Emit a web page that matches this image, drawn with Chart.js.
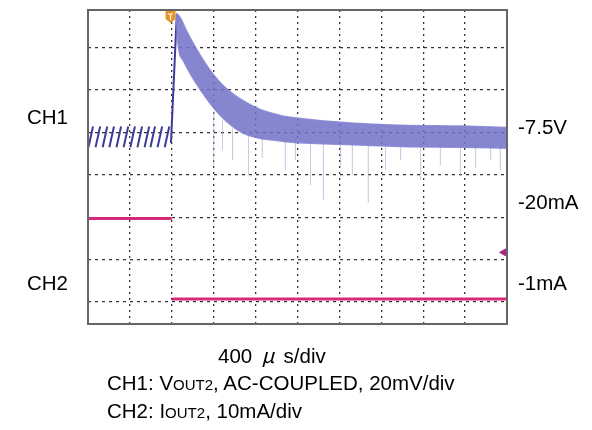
<!DOCTYPE html>
<html>
<head>
<meta charset="utf-8">
<script src="https://cdn.jsdelivr.net/npm/chart.js@4.4.1/dist/chart.umd.min.js"></script>
<style>
  body { margin: 0; background: #fff; }
  #wrap { position: relative; width: 592px; height: 430px; font-family: Arial, "Liberation Sans", sans-serif; color: #000; }
  #wrap canvas { position: absolute; left: 0; top: 0; }
  .lbl { position: absolute; font-size: 20.5px; line-height: 20px; white-space: nowrap; }
  .sc { font-size: 15px; }
  .mu { display: inline-block; width: 20px; text-align: center; font-style: italic; font-family: "Noto Sans CJK JP", sans-serif; }
</style>
</head>
<body>
<div id="wrap">
  <canvas id="scope" width="592" height="430"></canvas>
  <div class="lbl" style="left:27px; top:107px;">CH1</div>
  <div class="lbl" style="left:27px; top:273px;">CH2</div>
  <div class="lbl" style="left:518px; top:117px;">-7.5V</div>
  <div class="lbl" style="left:518px; top:192px;">-20mA</div>
  <div class="lbl" style="left:518px; top:273px;">-1mA</div>
  <div class="lbl" style="left:218px; top:344px;">400 <span class="mu">μ</span> s/div</div>
  <div class="lbl" style="left:107px; top:373px;">CH1: V<span class="sc">OUT2</span>, AC-COUPLED, 20mV/div</div>
  <div class="lbl" style="left:107px; top:401px;">CH2: I<span class="sc">OUT2</span>, 10mA/div</div>
</div>
<script>
// scope screen, all values in divisions
const xTicks = [0, 1, 2, 3, 4, 5, 6, 7, 8, 9, 10];
const yTicks = [0, 1, 2, 3, 4, 5, 6];
const xRange = [0, 10];
const yRange = [-0.52, 6.89];
const triggerX = 1.97;

// CH1 noise band after the load step (upper / lower edge)
const ch1TopX = [2.11, 2.21, 2.33, 2.57, 2.92, 3.33, 4.00, 4.59, 5.07, 6.03, 7.46, 8.89, 10];
const ch1TopY = [6.81, 6.70, 6.44, 6.00, 5.46, 5.01, 4.59, 4.40, 4.33, 4.24, 4.17, 4.15, 4.12];
const ch1BotX = [2.11, 2.14, 2.28, 2.68, 3.16, 3.71, 4.59, 6.03, 7.46, 8.89, 10];
const ch1BotY = [6.77, 6.16, 5.69, 5.01, 4.40, 3.98, 3.80, 3.72, 3.67, 3.65, 3.63];

// CH1 ripple before the step (each slash: start x, end x)
const sawStartX = [0.01, 0.18, 0.35, 0.51, 0.68, 0.85, 1.01, 1.18, 1.35, 1.49, 1.66, 1.83];
const sawEndX   = [0.12, 0.29, 0.46, 0.62, 0.79, 0.96, 1.12, 1.29, 1.46, 1.60, 1.77, 1.94];
const sawLow = 3.65;
const sawHigh = 4.14;
const edgeX = [1.98, 2.12];
const edgeY = [3.75, 6.80];

// faint spikes under the band
const ghostX   = [3.00, 3.21, 3.45, 3.83, 4.16, 4.71, 4.95, 5.31, 5.62, 6.03, 6.31, 6.69, 7.10, 7.46, 7.94, 8.41, 8.89, 9.25, 9.61, 9.84];
const ghostTop = [4.50, 4.30, 4.10, 3.95, 3.90, 3.85, 3.85, 3.80, 3.80, 3.80, 3.80, 3.75, 3.75, 3.75, 3.75, 3.70, 3.70, 3.70, 3.70, 3.70];
const ghostBot = [3.23, 3.58, 3.35, 3.00, 3.40, 3.11, 3.35, 2.76, 2.41, 3.23, 3.00, 2.34, 3.11, 3.35, 2.88, 3.23, 3.00, 3.16, 3.35, 3.11];

// CH2 load current
const ch2X = [0, 2, 2, 2, 10];
const ch2Y = [1.97, 1.97, null, 0.07, 0.07];
const ch2MarkX = [9.92];
const ch2MarkY = [1.17];

const pts = (xs, ys) => xs.map((x, i) => ({ x: x, y: ys[i] }));

const sawData = [];
sawStartX.forEach((x, i) => {
  sawData.push({ x: x, y: sawLow }, { x: sawEndX[i], y: sawHigh }, { x: sawEndX[i], y: null });
});
edgeX.forEach((x, i) => sawData.push({ x: x, y: edgeY[i] }));

const ghostData = [];
ghostX.forEach((x, i) => {
  ghostData.push({ x: x, y: ghostTop[i] }, { x: x, y: ghostBot[i] }, { x: x, y: null });
});

const scopeFrame = {
  id: 'scopeFrame',
  afterDraw(chart) {
    const { ctx, chartArea: a, scales } = chart;
    ctx.save();
    ctx.strokeStyle = '#666';
    ctx.lineWidth = 2;
    ctx.strokeRect(a.left, a.top, a.right - a.left, a.bottom - a.top);
    // trigger marker
    const px = scales.x.getPixelForValue(triggerX);
    const t = a.top + 1;
    ctx.fillStyle = '#e8952c';
    ctx.beginPath();
    ctx.moveTo(px - 5, t);
    ctx.lineTo(px + 5, t);
    ctx.lineTo(px + 5, t + 8);
    ctx.lineTo(px, t + 12);
    ctx.lineTo(px - 5, t + 8);
    ctx.closePath();
    ctx.fill();
    ctx.strokeStyle = '#fff';
    ctx.lineWidth = 1.2;
    ctx.beginPath();
    ctx.moveTo(px - 2.5, t + 3);
    ctx.lineTo(px + 2.5, t + 3);
    ctx.moveTo(px, t + 3);
    ctx.lineTo(px, t + 9);
    ctx.stroke();
    ctx.restore();
  }
};

new Chart(document.getElementById('scope'), {
  type: 'line',
  data: {
    datasets: [
      {
        data: pts(ch1TopX, ch1TopY),
        borderColor: 'rgba(135,135,212,0.9)',
        borderWidth: 1.5,
        pointRadius: 0,
        cubicInterpolationMode: 'monotone',
        fill: false
      },
      {
        data: pts(ch1BotX, ch1BotY),
        borderColor: 'rgba(135,135,212,0.9)',
        borderWidth: 1.5,
        pointRadius: 0,
        cubicInterpolationMode: 'monotone',
        fill: '-1',
        backgroundColor: 'rgba(112,112,200,0.85)'
      },
      {
        data: sawData,
        borderColor: '#3c3c9c',
        borderWidth: 2,
        pointRadius: 0,
        spanGaps: false
      },
      {
        data: pts(ch2X, ch2Y),
        borderColor: '#d8287a',
        borderWidth: 3,
        pointRadius: 0,
        spanGaps: false
      },
      {
        type: 'scatter',
        data: pts(ch2MarkX, ch2MarkY),
        pointStyle: 'triangle',
        rotation: 270,
        pointRadius: 4,
        backgroundColor: '#a3268a',
        borderColor: '#a3268a'
      },
      {
        data: ghostData,
        borderColor: 'rgba(165,165,215,0.25)',
        borderWidth: 1,
        pointRadius: 0,
        spanGaps: false
      }
    ]
  },
  options: {
    responsive: false,
    animation: false,
    events: [],
    layout: { padding: { left: 88, right: 85, top: 10, bottom: 106 } },
    plugins: { legend: { display: false }, tooltip: { enabled: false } },
    scales: {
      x: {
        type: 'linear',
        min: xRange[0],
        max: xRange[1],
        afterBuildTicks: s => { s.ticks = xTicks.map(v => ({ value: v })); },
        ticks: { display: false },
        grid: { color: '#333', lineWidth: 1.3, drawTicks: false },
        border: { display: false, dash: [2, 4] }
      },
      y: {
        type: 'linear',
        min: yRange[0],
        max: yRange[1],
        afterBuildTicks: s => { s.ticks = yTicks.map(v => ({ value: v })); },
        ticks: { display: false },
        grid: { color: '#333', lineWidth: 1.3, drawTicks: false },
        border: { display: false, dash: [3, 4] }
      }
    }
  },
  plugins: [scopeFrame]
});
</script>
</body>
</html>
